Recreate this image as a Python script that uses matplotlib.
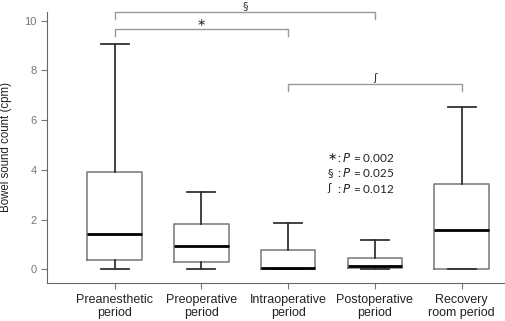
import numpy as np
import matplotlib
matplotlib.use("Agg")
import matplotlib.pyplot as plt

periods = ["Preanesthetic\nperiod", "Preoperative\nperiod", "Intraoperative\nperiod",
           "Postoperative\nperiod", "Recovery\nroom period"]
whislo = [0.0, 0.0, 0.0, 0.0, 0.0]
q1 = [0.36, 0.31, 0.02, 0.03, 0.0]
med = [1.41, 0.92, 0.05, 0.11, 1.59]
q3 = [3.90, 1.81, 0.79, 0.47, 3.43]
whishi = [9.08, 3.09, 1.87, 1.16, 6.52]

# significance brackets: (start box, end box, height, label)
brackets = [(1, 4, 10.36, "§"), (1, 3, 9.68, "\u2217"), (3, 5, 7.47, "\u0283")]
pvals = [("\u2217", "0.002"), ("§", "0.025"), ("\u0283", "0.012")]

plt.rcParams['font.family'] = ['Liberation Sans', 'DejaVu Sans']
sym_fonts = ['DejaVu Sans']
txt_fonts = ['Lato', 'DejaVu Sans']

fig = plt.figure(figsize=(5.05, 3.21), dpi=100)
ax = fig.add_axes([0.093, 0.118, 0.907, 0.845])

stats = []
for i in range(len(periods)):
    stats.append(dict(med=med[i], q1=q1[i], q3=q3[i], whislo=whislo[i],
                      whishi=whishi[i], fliers=[], label=periods[i]))

pos = np.arange(1, len(periods) + 1)
ax.bxp(stats, positions=pos, widths=0.63, showfliers=False,
       boxprops=dict(color="#777777", lw=1.1),
       whiskerprops=dict(color="#333333", lw=1.3),
       capprops=dict(color="#333333", lw=1.3),
       medianprops=dict(color="black", lw=2.0),
       capwidths=0.32)

ax.set_xlim(0.22, 5.5)
ax.set_ylim(-0.56, 10.36)
ax.set_yticks([0, 2, 4, 6, 8, 10])
ax.set_ylabel("Bowel sound count (cpm)", fontsize=8.3, color="#222222",
              labelpad=9)

for s in ["top", "right"]:
    ax.spines[s].set_visible(False)
for s in ["left", "bottom"]:
    ax.spines[s].set_color("#666666")
ax.tick_params(axis="y", colors="#777777", labelsize=8, length=4)
ax.tick_params(axis="x", colors="#777777", labelsize=9, length=4)
for lab in ax.get_xticklabels():
    lab.set_color("#222222")

for a, b, h, lab in brackets:
    ax.plot([a, a, b, b], [h - 0.28, h, h, h - 0.28], color="#999999",
            lw=1.0, clip_on=False)
    ax.text((a + b) / 2, h + 0.02, lab, ha="center", va="bottom",
            fontsize=8, color="#333333", clip_on=False, family=sym_fonts)

for k, (sym, p) in enumerate(pvals):
    y = 4.5 - 0.62 * k
    ax.text(3.45, y, sym, ha="left", va="center", fontsize=8,
            color="#222222", family=sym_fonts)
    ax.text(3.56, y, ": $\\it{P}$ = " + p, ha="left", va="center",
            fontsize=8.5, color="#222222", family=txt_fonts)

fig.savefig("out.png", dpi=100)
